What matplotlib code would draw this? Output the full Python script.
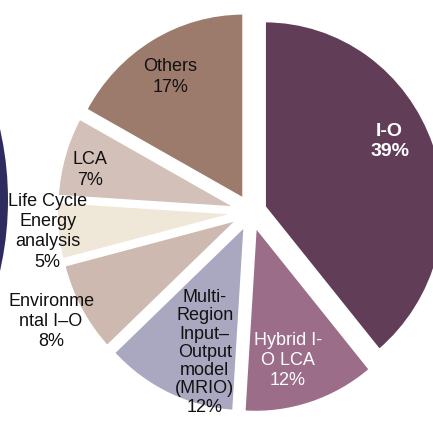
import matplotlib.pyplot as plt
from matplotlib.patches import Ellipse

plt.rcParams['font.family'] = ['Liberation Sans', 'DejaVu Sans']

# slices, clockwise from 12 o'clock
methods = ["I-O", "Hybrid I-O LCA", "MRIO", "Environmental I-O",
           "Life Cycle Energy analysis", "LCA", "Others"]
shares = [39, 12, 12, 8, 5, 7, 17]
labels = ["I-O\n39%", "Hybrid I-\nO LCA\n12%",
          "Multi-\nRegion\nInput\u2013\nOutput\nmodel\n(MRIO)\n12%",
          "Environme\nntal I\u2013O\n8%", "Life Cycle\nEnergy\nanalysis\n5%",
          "LCA\n7%", "Others\n17%"]
colors = ["#623d58", "#9c6d88", "#aaa8c0", "#cdb9af", "#efe8d8", "#d3c0b8", "#9d7b6c"]
text_colors = ["white", "white", "#111111", "#111111", "#111111", "#111111", "#111111"]

# label centres as fractions of the figure (x from left, y from top)
label_pos = [(0.900, 0.335), (0.665, 0.852), (0.473, 0.833), (0.118, 0.760),
             (0.110, 0.548), (0.208, 0.402), (0.393, 0.182)]

W, H = 433, 423
cx, cy = 251, 212     # pie centre in pixels
rx, ry = 180, 186     # pixels per unit radius (picture is slightly stretched)

fig = plt.figure(figsize=(W / 100, H / 100), dpi=100)
ax = fig.add_axes([0, 0, 1, 1])

ax.pie(shares, colors=colors, startangle=90, counterclock=False,
       explode=[0.08] * len(shares), radius=1,
       wedgeprops=dict(edgecolor="white", linewidth=2))

# edge of a neighbouring dark circle on the far left
ax.add_patch(Ellipse(((-311 - cx) / rx, (cy - 200) / ry), 2 * 319 / rx, 2 * 319 / ry,
                     color="#2e2c5e", lw=0))

ax.set_aspect("auto")
ax.set_xlim(-cx / rx, (W - cx) / rx)
ax.set_ylim((cy - H) / ry, cy / ry)
ax.axis("off")

for i, lab in enumerate(labels):
    x, y = label_pos[i]
    bold = i == 0
    ls = 1.1 if i == 2 else 1.25
    ax.text(x, 1 - y, lab, transform=fig.transFigure, ha="center", va="center",
            color=text_colors[i], fontsize=14 if bold else 13,
            fontweight="bold" if bold else "normal", linespacing=ls)

fig.savefig("out.png", dpi=100)
